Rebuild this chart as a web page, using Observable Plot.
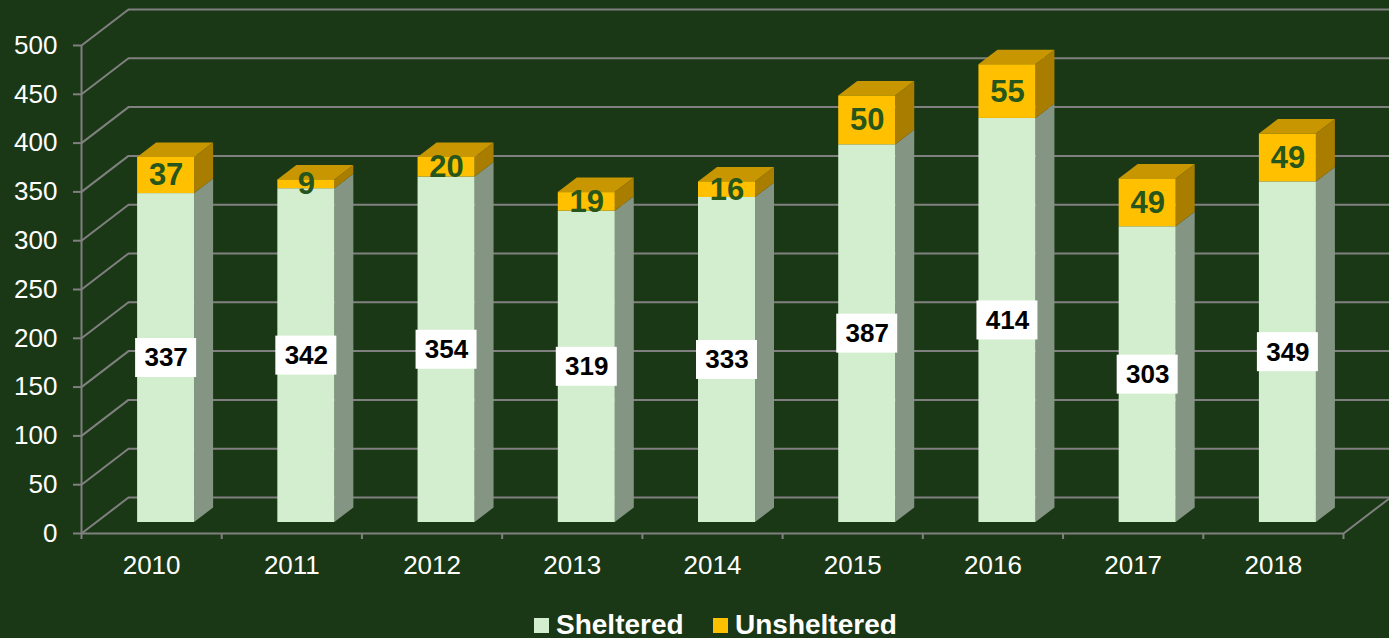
<!DOCTYPE html>
<html>
<head>
<meta charset="utf-8">
<script src="https://cdn.jsdelivr.net/npm/d3@7"></script>
<script src="https://cdn.jsdelivr.net/npm/@observablehq/plot@0.6"></script>
<style>
  html, body { margin: 0; padding: 0; background: #1a3815; overflow: hidden; }
  #wrap { position: relative; width: 1389px; height: 638px; font-family: "Liberation Sans", Arial, sans-serif; }
  .sw { position: absolute; width: 15px; height: 15px; top: 618px; }
  .lt { position: absolute; top: 614px; font-size: 28px; line-height: 22px; font-weight: bold; color: #ffffff; white-space: nowrap; }
</style>
</head>
<body>
<div id="wrap"></div>
<script>
// ---- data ----
const years = [2010, 2011, 2012, 2013, 2014, 2015, 2016, 2017, 2018];
const sheltered = [337, 342, 354, 319, 333, 387, 414, 303, 349];
const unsheltered = [37, 9, 20, 19, 16, 50, 55, 49, 49];
const yTicks = [0, 50, 100, 150, 200, 250, 300, 350, 400, 450, 500];
const seriesNames = ["Sheltered", "Unsheltered"];

// ---- layout / style ----
const W = 1389, H = 600, ML = 81, MR = 46, MT = 45, MB = 67;
const kx = 9 / (W - ML - MR);      // data units per px (x)
const ky = 500 / (H - MT - MB);    // data units per px (y)
const wallDx = 47, wallDy = 36;    // 3D depth of walls (px)
const barDx = 14.5, barDy = 11;    // bar front offset (px)
const sideDx = 19, sideDy = 14.5;  // bar depth (px)
const halfW = 28.5 * kx;
const grid = "#808080";
const C = {
  shFront: "#d3edcf", shSide: "#849683",
  unFront: "#ffc000", unSide: "#a87d00", unTop: "#c89600",
  unText: "#26561b"
};

// ---- derived tables ----
const bars = years.map((yr, i) => ({
  i, yr, c: i + 0.5, s: sheltered[i], u: unsheltered[i], t: sheltered[i] + unsheltered[i]
}));
function sideRows(lo, hi) {
  const rows = [];
  bars.forEach(b => {
    const xr = b.c + halfW, l = lo(b), h = hi(b);
    rows.push({id: b.i, x: xr, y1: l, y2: h});
    rows.push({id: b.i, x: xr + sideDx * kx, y1: l + sideDy * ky, y2: h + sideDy * ky});
  });
  return rows;
}
const shSide = sideRows(b => 0, b => b.s);
const unSide = sideRows(b => b.s, b => b.t);
const unTop = [];
bars.forEach(b => {
  unTop.push({id: b.i, y: b.t, x1: b.c - halfW, x2: b.c + halfW});
  unTop.push({id: b.i, y: b.t + sideDy * ky, x1: b.c - halfW + sideDx * kx, x2: b.c + halfW + sideDx * kx});
});

const plot = Plot.plot({
  width: W, height: H,
  marginLeft: ML, marginRight: MR, marginTop: MT, marginBottom: MB,
  style: {background: "transparent", color: "white", fontFamily: "Liberation Sans, Arial, sans-serif", overflow: "visible"},
  x: {type: "linear", domain: [0, 9], axis: null},
  y: {type: "linear", domain: [0, 500], axis: null},
  marks: [
    // back wall gridlines
    Plot.ruleY(yTicks, {x1: 0, x2: 9, dx: wallDx, dy: -wallDy, stroke: grid, strokeWidth: 2}),
    // side wall diagonals
    Plot.link(yTicks, {x1: 0, y1: d => d, x2: wallDx * kx, y2: d => d + wallDy * ky, stroke: grid, strokeWidth: 2}),
    // floor right diagonal
    Plot.link([0], {x1: 9, y1: 0, x2: 9 + wallDx * kx, y2: wallDy * ky, stroke: grid, strokeWidth: 2}),
    // front axes
    Plot.ruleX([0], {y1: 0, y2: 500, stroke: grid, strokeWidth: 2}),
    Plot.ruleY([0], {x1: 0, x2: 9, stroke: grid, strokeWidth: 2}),
    Plot.ruleX(d3.range(0, 10), {x: d => d, y1: 0, y2: -6 * ky, stroke: grid, strokeWidth: 2}),
    Plot.axisY(yTicks, {tickSize: 8, tickPadding: 16, stroke: grid, strokeWidth: 2, fill: "white", fontSize: 26, tickFormat: d => String(d)}),
    Plot.text(bars, {x: "c", y: 0, dy: 32, text: d => String(d.yr), fill: "white", fontSize: 26}),
    // sheltered bars
    Plot.areaY(shSide, {x: "x", y1: "y1", y2: "y2", z: "id", fill: C.shSide, dx: barDx, dy: -barDy}),
    Plot.rect(bars, {x1: d => d.c - halfW, x2: d => d.c + halfW, y1: 0, y2: "s", fill: C.shFront, dx: barDx, dy: -barDy}),
    // unsheltered bars
    Plot.areaY(unSide, {x: "x", y1: "y1", y2: "y2", z: "id", fill: C.unSide, dx: barDx, dy: -barDy}),
    Plot.areaX(unTop, {y: "y", x1: "x1", x2: "x2", z: "id", fill: C.unTop, dx: barDx, dy: -barDy}),
    Plot.rect(bars, {x1: d => d.c - halfW, x2: d => d.c + halfW, y1: "s", y2: "t", fill: C.unFront, dx: barDx, dy: -barDy}),
    // labels
    Plot.rect(bars, {x1: d => d.c - 30.5 * kx, x2: d => d.c + 30.5 * kx, y1: d => d.s / 2 - 19.5 * ky, y2: d => d.s / 2 + 19.5 * ky, fill: "white", dx: barDx, dy: -barDy}),
    Plot.text(bars, {x: "c", y: d => d.s / 2, text: d => String(d.s), fill: "black", fontWeight: "bold", fontSize: 26, dx: barDx, dy: -barDy}),
    Plot.text(bars, {x: "c", y: d => d.s + d.u / 2, text: d => String(d.u), fill: C.unText, fontWeight: "bold", fontSize: 31, dx: barDx, dy: -barDy})
  ]
});

const wrap = document.getElementById("wrap");
wrap.appendChild(plot);
// legend (below the SVG)
const legendItems = [
  {name: seriesNames[0], color: C.shFront, sx: 534, tx: 556},
  {name: seriesNames[1], color: C.unFront, sx: 713, tx: 735}
];
legendItems.forEach(it => {
  const s = document.createElement("div");
  s.className = "sw"; s.style.left = it.sx + "px"; s.style.background = it.color;
  wrap.appendChild(s);
  const t = document.createElement("div");
  t.className = "lt"; t.style.left = it.tx + "px"; t.textContent = it.name;
  wrap.appendChild(t);
});
</script>
</body>
</html>
